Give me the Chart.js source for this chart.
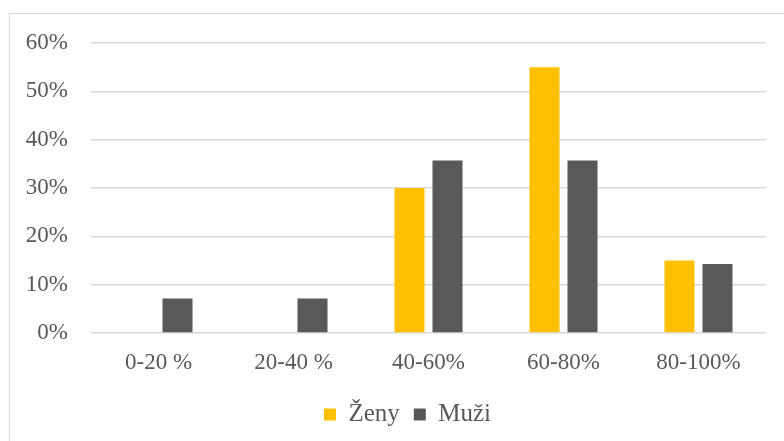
<!DOCTYPE html>
<html>
<head>
<meta charset="utf-8">
<script src="https://cdn.jsdelivr.net/npm/chart.js@4/dist/chart.umd.min.js"></script>
<style>
  body { margin: 0; background: #fff; overflow: hidden; }
  #frame { position: absolute; left: 9px; top: 13px; width: 800px; height: 460px; border: 1px solid #d9d9d9; }
  #wrap { position: absolute; left: 0; top: 0; width: 784px; height: 441px; }
</style>
</head>
<body>
<div id="frame"></div>
<div id="wrap"><canvas id="chart"></canvas></div>
<script>
  // Data
  const categories = ["0-20 %", "20-40 %", "40-60%", "60-80%", "80-100%"];
  const zeny = [0, 0, 30, 55, 15];
  const muzi = [7.14, 7.14, 35.71, 35.71, 14.29];

  const textColor = "#595959";
  const gridColor = "#d9d9d9";
  const fontFamily = "'Liberation Serif', 'Times New Roman', serif";
  const font = { family: fontFamily, size: 23 };

  // nudge legend a bit to the right, like the original
  const legendShift = {
    id: "legendShift",
    afterLayout(chart) {
      chart.legend.left += 20;
      chart.legend.right += 20;
    }
  };

  const chart = new Chart(document.getElementById("chart"), {
    type: "bar",
    data: {
      labels: categories,
      datasets: [
        { label: "Ženy", data: zeny, backgroundColor: "#FFC000" },
        { label: "Muži", data: muzi, backgroundColor: "#595959" }
      ]
    },
    options: {
      responsive: true,
      maintainAspectRatio: false,
      animation: false,
      datasets: {
        bar: { categoryPercentage: 0.563, barPercentage: 0.79 }
      },
      layout: { padding: { left: 9, right: 18, top: 43, bottom: 4 } },
      scales: {
        x: {
          grid: { display: false, drawTicks: false },
          border: { display: false },
          ticks: { color: textColor, font: font, padding: 16, maxRotation: 0 },
          afterFit: (scale) => { scale.height = 55; }
        },
        y: {
          min: 0,
          max: 60,
          grid: { color: gridColor, lineWidth: 1.5, drawTicks: false },
          border: { display: false },
          ticks: {
            stepSize: 10,
            color: textColor,
            font: font,
            padding: 23,
            callback: (v) => v + "%"
          },
          afterFit: (scale) => { scale.width = 82; }
        }
      },
      plugins: {
        legend: {
          position: "bottom",
          labels: {
            color: textColor,
            font: { family: fontFamily, size: 25 },
            boxWidth: 12,
            boxHeight: 12,
            padding: 14
          }
        },
        tooltip: { enabled: false }
      }
    },
    plugins: [legendShift]
  });
</script>
</body>
</html>
